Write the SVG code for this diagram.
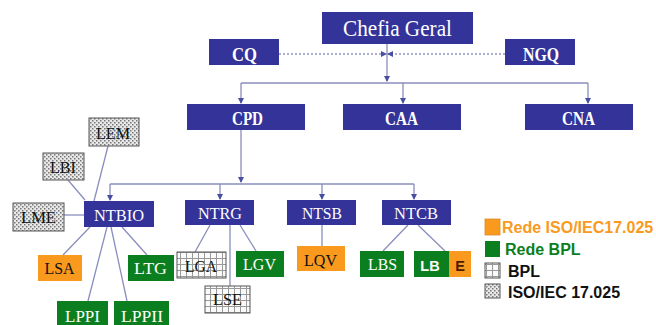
<svg xmlns="http://www.w3.org/2000/svg" width="656" height="325" viewBox="0 0 656 325">
<style>
.nv{fill:#333399}
.gr{fill:#0b7f20}
.or{fill:#f99a1e}
.dt{fill:url(#dots);stroke:#555;stroke-width:1}
.gd{fill:url(#grid);stroke:#555;stroke-width:1}
.tw{font-family:"Liberation Serif","Times New Roman",serif;font-size:17px;fill:#fff;text-anchor:middle}
.tt{font-family:"Liberation Serif","Times New Roman",serif;font-size:18px;font-weight:bold;fill:#fff;text-anchor:middle}
.tb{font-family:"Liberation Serif","Times New Roman",serif;font-size:17px;fill:#111;text-anchor:middle}
.ts{font-family:"Liberation Sans",Arial,sans-serif;font-size:14.5px;font-weight:bold;text-anchor:middle}
.lg{font-family:"Liberation Sans",Arial,sans-serif;font-size:16px;font-weight:bold}
.ln{fill:none;stroke:#8a8dbd;stroke-width:1.3}
.dl{fill:none;stroke:#5a5ea8;stroke-width:1;stroke-dasharray:2 2}
</style>
<defs>
<pattern id="dots" width="4" height="4" patternUnits="userSpaceOnUse">
<rect width="4" height="4" fill="#e8e8e8"/>
<rect x="0" y="0" width="1.5" height="1.5" fill="#777"/>
<rect x="2" y="2" width="1.5" height="1.5" fill="#777"/>
</pattern>
<pattern id="grid" width="6" height="6" patternUnits="userSpaceOnUse">
<rect width="6" height="6" fill="#fafafa"/>
<path d="M0 0.5H6M0.5 0V6" stroke="#999" stroke-width="1"/>
</pattern>
<marker id="ar" markerWidth="6" markerHeight="6" refX="5" refY="3" orient="auto" markerUnits="userSpaceOnUse">
<path d="M0 0L6 3L0 6Z" fill="#4a4e9e"/>
</marker>
</defs>
<rect width="656" height="325" fill="#fff"/>

<g id="connectors">
<path class="ln" d="M387 44V81" marker-end="url(#ar)"/>
<path class="ln" d="M241 83H588"/>
<path class="ln" d="M241 83V103" marker-end="url(#ar)"/>
<path class="ln" d="M403 83V103" marker-end="url(#ar)"/>
<path class="ln" d="M588 83V103" marker-end="url(#ar)"/>
<path class="dl" d="M279 54H386" marker-end="url(#ar)"/>
<path class="dl" d="M505 54H388" marker-end="url(#ar)"/>
<path class="ln" d="M241 130V182" marker-end="url(#ar)"/>
<path class="ln" d="M110 184H414"/>
<path class="ln" d="M110 184V200" marker-end="url(#ar)"/>
<path class="ln" d="M220 184V199" marker-end="url(#ar)"/>
<path class="ln" d="M322 184V199" marker-end="url(#ar)"/>
<path class="ln" d="M414 184V199" marker-end="url(#ar)"/>
<path class="ln" d="M108 146L94 201"/>
<path class="ln" d="M68 180L85 200"/>
<path class="ln" d="M64 215H84"/>
<path class="ln" d="M90 227L63 255"/>
<path class="ln" d="M107 227L88 301"/>
<path class="ln" d="M111 227L127 301"/>
<path class="ln" d="M122 227L147 255"/>
<path class="ln" d="M210 225L195 252"/>
<path class="ln" d="M230 225V286"/>
<path class="ln" d="M240 225L256 251"/>
<path class="ln" d="M322 225V246"/>
<path class="ln" d="M408 225L383 251"/>
<path class="ln" d="M418 225L445 251"/>
</g>

<g id="chefia"><rect class="nv" x="322" y="12" width="151" height="32"/><text class="tw" x="397.5" y="36" style="font-size:23px" textLength="109" lengthAdjust="spacingAndGlyphs">Chefia Geral</text></g>
<g id="cq"><rect class="nv" x="209" y="39" width="70" height="26"/><text class="tt" x="244.5" y="61" textLength="25" lengthAdjust="spacingAndGlyphs">CQ</text></g>
<g id="ngq"><rect class="nv" x="505" y="39" width="70" height="26"/><text class="tt" x="541" y="61" textLength="36" lengthAdjust="spacingAndGlyphs">NGQ</text></g>
<g id="cpd"><rect class="nv" x="187" y="104" width="118" height="26"/><text class="tt" x="247.5" y="124.5" textLength="31" lengthAdjust="spacingAndGlyphs">CPD</text></g>
<g id="caa"><rect class="nv" x="343" y="104" width="118" height="26"/><text class="tt" x="401.5" y="124.5" textLength="33" lengthAdjust="spacingAndGlyphs">CAA</text></g>
<g id="cna"><rect class="nv" x="525" y="104" width="108" height="26"/><text class="tt" x="578.5" y="124.5" textLength="33" lengthAdjust="spacingAndGlyphs">CNA</text></g>

<g id="ntbio"><rect class="nv" x="84" y="201" width="70" height="26"/><text class="tw" x="119" y="221" textLength="50" lengthAdjust="spacingAndGlyphs">NTBIO</text></g>
<g id="ntrg"><rect class="nv" x="185" y="200" width="69" height="25"/><text class="tw" x="220" y="218.5" textLength="44" lengthAdjust="spacingAndGlyphs">NTRG</text></g>
<g id="ntsb"><rect class="nv" x="287" y="200" width="69" height="25"/><text class="tw" x="322" y="218.5" textLength="40" lengthAdjust="spacingAndGlyphs">NTSB</text></g>
<g id="ntcb"><rect class="nv" x="382" y="200" width="69" height="25"/><text class="tw" x="416" y="218.5" textLength="44" lengthAdjust="spacingAndGlyphs">NTCB</text></g>

<g id="lem"><rect class="dt" x="89" y="118" width="50" height="28"/><text class="tb" x="113" y="138.5" textLength="34" lengthAdjust="spacingAndGlyphs">LEM</text></g>
<g id="lbi"><rect class="dt" x="43" y="153" width="41" height="27"/><text class="tb" x="63" y="173" textLength="26" lengthAdjust="spacingAndGlyphs">LBI</text></g>
<g id="lme"><rect class="dt" x="13" y="203" width="51" height="28"/><text class="tb" x="38.5" y="223" textLength="35" lengthAdjust="spacingAndGlyphs">LME</text></g>
<g id="lsa"><rect class="or" x="38" y="255" width="44" height="26"/><text class="tb" x="59.5" y="273.5" textLength="30" lengthAdjust="spacingAndGlyphs">LSA</text></g>
<g id="ltg"><rect class="gr" x="128" y="255" width="46" height="26"/><text class="tw" x="150.5" y="274" textLength="33" lengthAdjust="spacingAndGlyphs">LTG</text></g>
<g id="lppi"><rect class="gr" x="57" y="301" width="51" height="26"/><text class="tw" x="82.5" y="321.5" textLength="35" lengthAdjust="spacingAndGlyphs">LPPI</text></g>
<g id="lppii"><rect class="gr" x="114" y="301" width="55" height="26"/><text class="tw" x="142" y="321.5" textLength="42" lengthAdjust="spacingAndGlyphs">LPPII</text></g>
<g id="lga"><rect class="gd" x="177" y="252" width="49" height="26"/><text class="tb" x="201" y="272" textLength="32" lengthAdjust="spacingAndGlyphs">LGA</text></g>
<g id="lse"><rect class="gd" x="205" y="286" width="45" height="27"/><text class="tb" x="227.5" y="305" textLength="29" lengthAdjust="spacingAndGlyphs">LSE</text></g>
<g id="lgv"><rect class="gr" x="236" y="251" width="48" height="26"/><text class="tw" x="259.5" y="270" textLength="33" lengthAdjust="spacingAndGlyphs">LGV</text></g>
<g id="lqv"><rect class="or" x="297" y="246" width="48" height="25"/><text class="tb" x="320.5" y="266" textLength="33" lengthAdjust="spacingAndGlyphs">LQV</text></g>
<g id="lbs"><rect class="gr" x="360" y="251" width="44" height="26"/><text class="tw" x="382.5" y="270" textLength="29" lengthAdjust="spacingAndGlyphs">LBS</text></g>
<g id="lbe"><rect class="gr" x="414" y="251" width="35" height="26"/><rect class="or" x="449" y="251" width="22" height="26"/><text class="ts" x="430" y="270.5" fill="#fff">LB</text><text class="ts" x="460" y="270.5" fill="#4b1a05">E</text></g>

<g id="legend">
<rect class="or" x="485" y="219" width="15" height="16" stroke="#d98a30" stroke-width="0.8"/>
<text class="lg" x="502" y="233" fill="#f99a1e">Rede ISO/IEC17.025</text>
<rect class="gr" x="485" y="241" width="15" height="16"/>
<text class="lg" x="505" y="255" fill="#0b7f20">Rede BPL</text>
<rect class="gd" x="485" y="263" width="15" height="15"/>
<text class="lg" x="508" y="277" fill="#111">BPL</text>
<rect class="dt" x="485" y="284" width="15" height="14"/>
<text class="lg" x="508" y="298" fill="#111">ISO/IEC 17.025</text>
</g>
</svg>
